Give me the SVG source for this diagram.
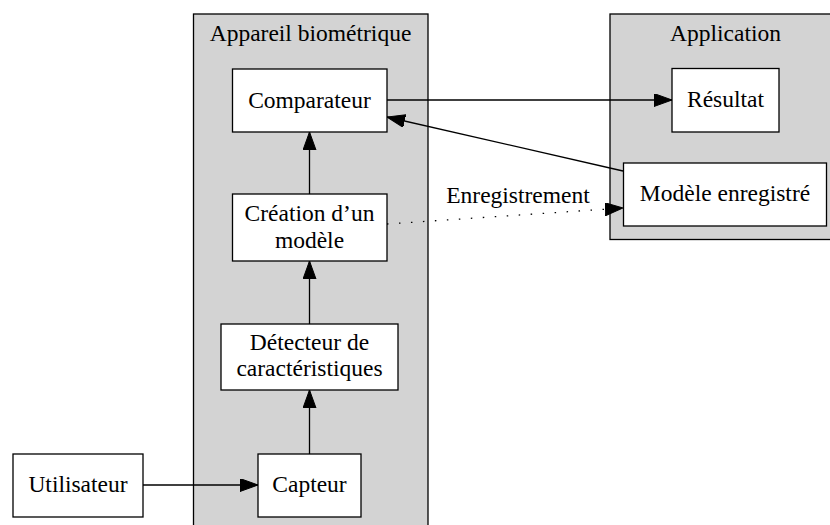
<svg xmlns="http://www.w3.org/2000/svg" width="830" height="525" viewBox="0 0 830 525">
<defs>
<style>
text{font-family:"Liberation Serif","Times New Roman",serif;font-size:23.5px;fill:#000;text-anchor:middle}
.cluster{fill:#d3d3d3;stroke:#000;stroke-width:1.3}
.node{fill:#fff;stroke:#000;stroke-width:1.3}
.edge{fill:none;stroke:#000;stroke-width:1.3}
.dot{stroke-dasharray:1.5 10.5}
</style>
<marker id="ah" markerUnits="userSpaceOnUse" markerWidth="19" markerHeight="14" refX="18" refY="6.5" orient="auto">
<path d="M0,0 L18,6.5 L0,13 z" fill="#000" stroke="#000" stroke-width="1"/>
</marker>
</defs>
<rect width="830" height="525" fill="#fff"/>
<g id="cluster_appareil">
<rect class="cluster" x="193.5" y="14" width="234.5" height="520"/>
<text x="310.5" y="41">Appareil biométrique</text>
</g>
<g id="cluster_application">
<rect class="cluster" x="610" y="14" width="222" height="225.5"/>
<text x="725.5" y="41">Application</text>
</g>
<g id="edges">
<line class="edge" x1="143" y1="485" x2="258" y2="485" marker-end="url(#ah)"/>
<line class="edge" x1="309.5" y1="454" x2="309.5" y2="390" marker-end="url(#ah)"/>
<line class="edge" x1="309.5" y1="324" x2="309.5" y2="261" marker-end="url(#ah)"/>
<line class="edge" x1="309.5" y1="194" x2="309.5" y2="132" marker-end="url(#ah)"/>
<line class="edge" x1="387" y1="100" x2="672" y2="100" marker-end="url(#ah)"/>
<line class="edge" x1="623" y1="171" x2="387" y2="117" marker-end="url(#ah)"/>
<line class="edge dot" x1="387" y1="224" x2="623" y2="208" marker-end="url(#ah)"/>
<text x="518" y="203">Enregistrement</text>
</g>
<g id="node_comparateur">
<rect class="node" x="232.5" y="69" width="154.5" height="63"/>
<text x="309.5" y="108">Comparateur</text>
</g>
<g id="node_creation">
<rect class="node" x="232.5" y="194" width="154.5" height="67"/>
<text x="309.5" y="221">Création d’un</text>
<text x="309.5" y="248">modèle</text>
</g>
<g id="node_detecteur">
<rect class="node" x="221" y="324" width="177" height="66"/>
<text x="309.5" y="350">Détecteur de</text>
<text x="309.5" y="376">caractéristiques</text>
</g>
<g id="node_capteur">
<rect class="node" x="258" y="454" width="103" height="63"/>
<text x="309.5" y="492">Capteur</text>
</g>
<g id="node_utilisateur">
<rect class="node" x="13" y="454" width="130" height="63"/>
<text x="78" y="492">Utilisateur</text>
</g>
<g id="node_resultat">
<rect class="node" x="672" y="68.5" width="107" height="63.5"/>
<text x="725.5" y="107">Résultat</text>
</g>
<g id="node_modele">
<rect class="node" x="623.5" y="163" width="203" height="63"/>
<text x="725" y="201">Modèle enregistré</text>
</g>
</svg>
